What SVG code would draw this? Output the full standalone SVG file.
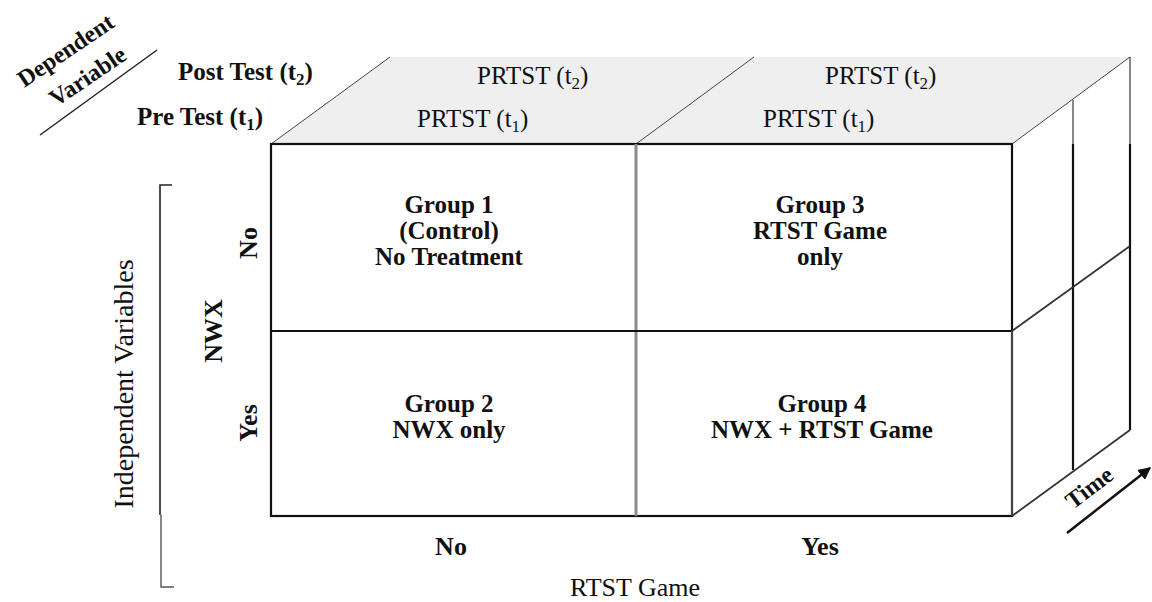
<svg xmlns="http://www.w3.org/2000/svg" width="1152" height="602" viewBox="0 0 1152 602">
  <style>
    text { font-family: "Liberation Serif", "Times New Roman", serif; fill: #111; }
    .b { font-weight: bold; }
    .grp { font-weight: bold; font-size: 25px; text-anchor: middle; }
    .hdr { font-size: 25px; }
    .lbl { font-weight: bold; font-size: 26px; text-anchor: middle; }
    .thin { stroke: #444; stroke-width: 1; fill: none; }
    .edge { stroke: #111; stroke-width: 2.2; fill: none; }
  </style>
  <defs>
    <marker id="ah" viewBox="0 0 10 10" refX="9" refY="5" markerWidth="5" markerHeight="5" orient="auto">
      <path d="M0,0 L10,5 L0,10 z" fill="#111"/>
    </marker>
  </defs>

  <!-- cube structure -->
  <g id="cube">
    <polygon points="271,144 390,57 1130,57 1012,144" fill="#efefef"/>
    <line class="thin" x1="271" y1="144" x2="390" y2="57"/>
    <line class="thin" x1="636" y1="144" x2="754" y2="57"/>
    <line class="thin" x1="1012" y1="144" x2="1130" y2="57"/>
    <!-- front face -->
    <rect x="271" y="144" width="741" height="372" fill="#fff" stroke="#111" stroke-width="2.2"/>
    <line x1="636" y1="144" x2="636" y2="516" stroke="#8a8a8a" stroke-width="3"/>
    <line class="edge" x1="271" y1="331" x2="1012" y2="331"/>
    <!-- right face -->
    <line x1="1073" y1="100" x2="1073" y2="144" stroke="#111" stroke-width="1"/>
    <line class="edge" x1="1073" y1="144" x2="1073" y2="470"/>
    <line x1="1130" y1="57" x2="1130" y2="144" stroke="#111" stroke-width="1"/>
    <line class="edge" x1="1130" y1="144" x2="1130" y2="430"/>
    <line x1="1012" y1="331" x2="1012" y2="516" stroke="#555" stroke-width="1.5"/>
    <line x1="1012" y1="331" x2="1130" y2="246" stroke="#333" stroke-width="1.8"/>
    <line x1="1012" y1="516" x2="1130" y2="430" stroke="#333" stroke-width="1.8"/>
  </g>

  <g id="headers">
    <text class="b" x="178" y="80" font-size="25">Post Test (t<tspan font-size="17" dy="5">2</tspan><tspan dy="-5">)</tspan></text>
    <text class="b" x="137" y="125" font-size="25">Pre Test (t<tspan font-size="17" dy="5">1</tspan><tspan dy="-5">)</tspan></text>
    <text class="hdr" x="477" y="84">PRTST (t<tspan font-size="17" dy="5">2</tspan><tspan dy="-5">)</tspan></text>
    <text class="hdr" x="825" y="84">PRTST (t<tspan font-size="17" dy="5">2</tspan><tspan dy="-5">)</tspan></text>
    <text class="hdr" x="417" y="127">PRTST (t<tspan font-size="17" dy="5">1</tspan><tspan dy="-5">)</tspan></text>
    <text class="hdr" x="763" y="127">PRTST (t<tspan font-size="17" dy="5">1</tspan><tspan dy="-5">)</tspan></text>
  </g>

  <g id="dependent-variable">
    <text class="b" font-size="24" text-anchor="middle" transform="translate(70,57) rotate(-34)">Dependent</text>
    <text class="b" font-size="24" text-anchor="middle" transform="translate(92,83) rotate(-34)">Variable</text>
    <line x1="40" y1="135" x2="157" y2="50" stroke="#222" stroke-width="1.5"/>
  </g>

  <g id="group1">
    <text class="grp" x="449" y="213">Group 1</text>
    <text class="grp" x="449" y="239">(Control)</text>
    <text class="grp" x="449" y="265">No Treatment</text>
  </g>
  <g id="group3">
    <text class="grp" x="820" y="213">Group 3</text>
    <text class="grp" x="820" y="239">RTST Game</text>
    <text class="grp" x="820" y="265">only</text>
  </g>
  <g id="group2">
    <text class="grp" x="449" y="412">Group 2</text>
    <text class="grp" x="449" y="438">NWX only</text>
  </g>
  <g id="group4">
    <text class="grp" x="822" y="412">Group 4</text>
    <text class="grp" x="822" y="438">NWX + RTST Game</text>
  </g>

  <g id="independent-variables">
    <path d="M172,185 L160,185 L160,515" fill="none" stroke="#222" stroke-width="1.6"/>
    <path d="M161,515 L161,587 L174,587" fill="none" stroke="#555" stroke-width="1.4"/>
    <text font-size="28" text-anchor="middle" transform="translate(133,384) rotate(-90)">Independent Variables</text>
    <text class="lbl" transform="translate(222,331) rotate(-90)">NWX</text>
    <text class="lbl" transform="translate(257,243) rotate(-90)">No</text>
    <text class="lbl" transform="translate(257,423) rotate(-90)">Yes</text>
  </g>

  <g id="rtst-axis">
    <text class="lbl" x="451" y="555">No</text>
    <text class="lbl" x="820" y="555">Yes</text>
    <text font-size="26" text-anchor="middle" x="635" y="596">RTST Game</text>
  </g>

  <g id="time-axis">
    <text class="b" font-size="24" text-anchor="middle" transform="translate(1094,494) rotate(-37)">Time</text>
  </g>

  <g id="connectors">
    <line x1="1067" y1="533" x2="1150" y2="468" stroke="#111" stroke-width="2.5" marker-end="url(#ah)"/>
  </g>
</svg>
